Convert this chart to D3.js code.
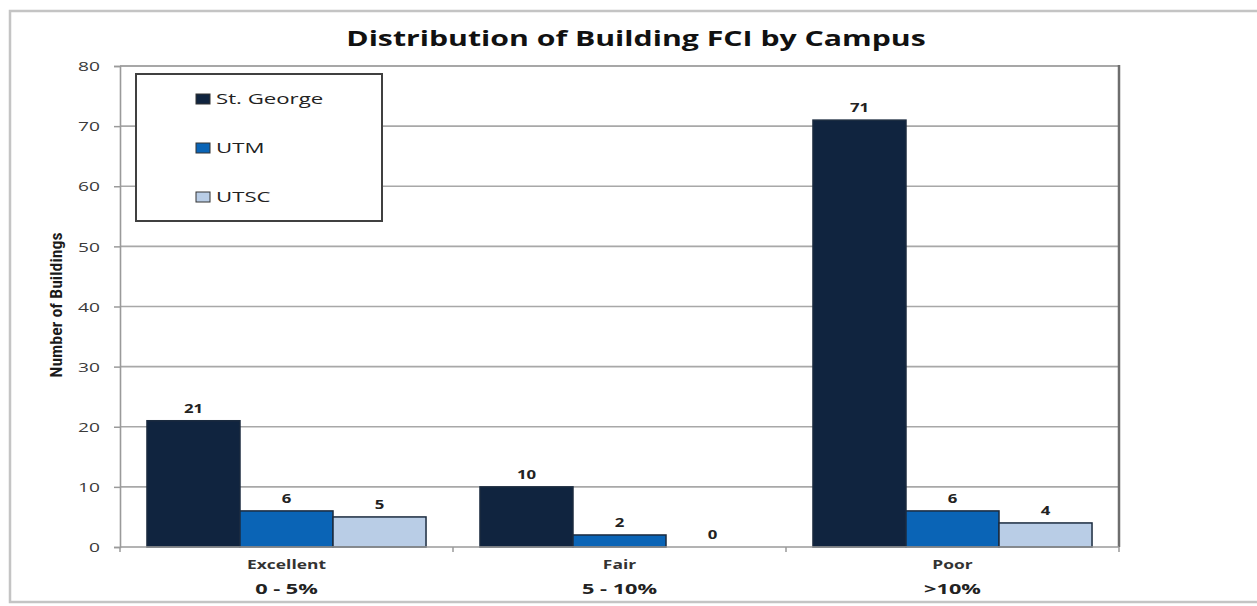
<!DOCTYPE html>
<html><head><meta charset="utf-8">
<script src="https://cdn.jsdelivr.net/npm/d3@7"></script>
<style>body{margin:0;background:#fff;} svg{display:block;}</style>
</head><body>
<svg id="chart" width="1257" height="606"></svg>
<script>
const categories = ["Excellent", "Fair", "Poor"];
const categoryRanges = ["0 - 5%", "5 - 10%", ">10%"];
const seriesNames = ["St. George", "UTM", "UTSC"];
const stGeorge = [21, 10, 71];
const utm = [6, 2, 6];
const utsc = [5, 0, 4];
const yTicks = [0, 10, 20, 30, 40, 50, 60, 70, 80];
const colors = ["#10243f", "#0a64b6", "#b9cde6"];

const seriesValues = [stGeorge, utm, utsc];
const svg = d3.select("#chart");
const m = {left: 120, top: 66, right: 1119, bottom: 547};

// horizontally stretch text around its anchor point (reference is widened)
function stretch(sel, k) {
  sel.each(function() {
    const t = d3.select(this);
    const x = +t.attr("x") || 0, yy = +t.attr("y") || 0;
    const prev = t.attr("transform") || "";
    t.attr("x", 0).attr("y", 0)
     .attr("transform", `${prev} translate(${x},${yy}) scale(${k},1)`);
  });
}

// outer frame
svg.append("rect").attr("x", 10).attr("y", 11).attr("width", 1280).attr("height", 591)
  .attr("fill", "none").attr("stroke", "#c4c4c4").attr("stroke-width", 2.5);

const x0 = d3.scaleBand().domain(categories).range([m.left, m.right])
  .paddingInner(0.162).paddingOuter(0.081);
const x1 = d3.scaleBand().domain(seriesNames).range([0, x0.bandwidth()]);
const y = d3.scaleLinear().domain([0, 80]).range([m.bottom, m.top]);

// gridlines
svg.append("g").selectAll("line").data(yTicks.filter(d => d > 0)).join("line")
  .attr("x1", m.left).attr("x2", m.right)
  .attr("y1", d => y(d)).attr("y2", d => y(d))
  .attr("stroke", d => d === 80 ? "#8a8a8a" : "#a8a8a8").attr("stroke-width", 1.6);

// right border
svg.append("line").attr("x1", m.right).attr("x2", m.right).attr("y1", m.top - 1).attr("y2", m.bottom)
  .attr("stroke", "#6e6e6e").attr("stroke-width", 2.5);

// y axis
const yAxis = svg.append("g").attr("transform", `translate(${m.left},0)`)
  .call(d3.axisLeft(y).tickValues(yTicks).tickSize(6).tickPadding(14));
yAxis.select(".domain").attr("stroke", "#9a9a9a").attr("stroke-width", 1.6);
yAxis.selectAll(".tick line").attr("stroke", "#9a9a9a").attr("stroke-width", 1.5);
const yt = yAxis.selectAll(".tick text").attr("font-family", "'Open Sans', sans-serif")
  .attr("font-size", 13.5).attr("fill", "#3a3a3a").attr("dy", "0.35em");
stretch(yt, 1.42);

// bars
const groups = svg.append("g").selectAll("g").data(categories).join("g")
  .attr("transform", d => `translate(${x0(d)},0)`);
groups.selectAll("rect").data((c, i) => seriesNames.map((s, j) => ({s, j, v: seriesValues[j][i]})))
  .join("rect")
  .attr("x", d => x1(d.s)).attr("width", x1.bandwidth())
  .attr("y", d => y(d.v)).attr("height", d => y(0) - y(d.v))
  .attr("fill", d => colors[d.j])
  .attr("stroke", d => d.v > 0 ? "#1b2b3f" : "none").attr("stroke-width", 1.5);
const vl = groups.selectAll("text").data((c, i) => seriesNames.map((s, j) => ({s, j, v: seriesValues[j][i]})))
  .join("text")
  .attr("x", d => x1(d.s) + x1.bandwidth() / 2)
  .attr("y", d => y(d.v) - 8)
  .attr("text-anchor", "middle")
  .attr("font-family", "'Open Sans', sans-serif").attr("font-weight", "bold")
  .attr("font-size", 12).attr("fill", "#222")
  .text(d => d.v);
stretch(vl, 1.4);

// x axis
svg.append("line").attr("x1", m.left).attr("x2", m.right).attr("y1", y(0)).attr("y2", y(0))
  .attr("stroke", "#9a9a9a").attr("stroke-width", 1.6);
const xEdges = [m.left].concat(categories.map(c => x0(c) + x0.bandwidth() + x0.step() * x0.paddingInner() / 2));
svg.append("g").selectAll("line").data(xEdges).join("line")
  .attr("x1", d => d).attr("x2", d => d).attr("y1", y(0)).attr("y2", y(0) + 5)
  .attr("stroke", "#9a9a9a").attr("stroke-width", 1.5);

const cl = svg.append("g").selectAll("text").data(categories).join("text")
  .attr("x", d => x0(d) + x0.bandwidth() / 2).attr("y", 569)
  .attr("text-anchor", "middle")
  .attr("font-family", "'Open Sans', sans-serif").attr("font-weight", "bold")
  .attr("font-size", 12).attr("fill", "#333").text(d => d);
stretch(cl, 1.45);
const cr = svg.append("g").selectAll("text").data(categories).join("text")
  .attr("x", d => x0(d) + x0.bandwidth() / 2).attr("y", 594)
  .attr("text-anchor", "middle")
  .attr("font-family", "'Open Sans', sans-serif").attr("font-weight", "bold")
  .attr("font-size", 14.5).attr("fill", "#222").text((d, i) => categoryRanges[i]);
stretch(cr, 1.5);

// y label
svg.append("text").attr("transform", "translate(62,305) rotate(-90)")
  .attr("text-anchor", "middle")
  .attr("font-family", "'Liberation Sans Narrow', 'Roboto Condensed', 'Liberation Sans', sans-serif")
  .attr("font-size", 17).attr("font-weight", 600).attr("fill", "#1a1a1a")
  .attr("textLength", 145).attr("lengthAdjust", "spacingAndGlyphs")
  .text("Number of Buildings");

// title
const title = svg.append("text").attr("x", 636).attr("y", 46).attr("text-anchor", "middle")
  .attr("font-family", "'Open Sans', sans-serif").attr("font-weight", "bold")
  .attr("font-size", 21).attr("fill", "#111")
  .text("Distribution of Building FCI by Campus");
stretch(title, 1.44);

// legend
const lg = svg.append("g");
lg.append("rect").attr("x", 136).attr("y", 74).attr("width", 246).attr("height", 147)
  .attr("fill", "#fff").attr("stroke", "#404040").attr("stroke-width", 2);
const li = lg.selectAll("g").data(seriesNames).join("g")
  .attr("transform", (d, i) => `translate(196,${99 + i * 49})`);
li.append("rect").attr("x", 0).attr("y", -5).attr("width", 14).attr("height", 10)
  .attr("fill", (d, i) => colors[i]).attr("stroke", "#333").attr("stroke-width", 1);
const lt = li.append("text").attr("x", 20).attr("y", 5)
  .attr("font-family", "'Open Sans', sans-serif").attr("font-size", 15).attr("fill", "#222")
  .text(d => d);
stretch(lt, 1.48);
</script>
</body></html>
